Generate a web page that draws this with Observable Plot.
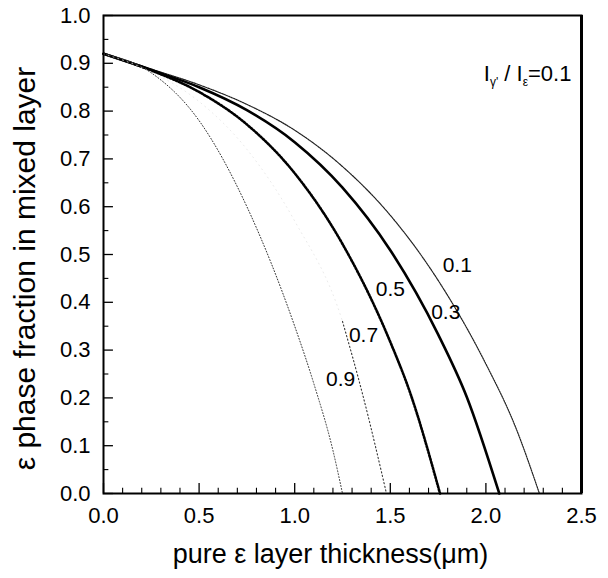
<!DOCTYPE html>
<html>
<head>
<meta charset="utf-8">
<script src="https://cdn.jsdelivr.net/npm/d3@7"></script>
<script src="https://cdn.jsdelivr.net/npm/@observablehq/plot@0.6"></script>
<style>
  html, body { margin: 0; padding: 0; background: #fff; }
</style>
</head>
<body>
<div id="chart"></div>
<script>
// Tick values
const xMajor = [0, 0.5, 1.0, 1.5, 2.0, 2.5];
const xMinor = [0.1,0.2,0.3,0.4,0.6,0.7,0.8,0.9,1.1,1.2,1.3,1.4,1.6,1.7,1.8,1.9,2.1,2.2,2.3,2.4];
const yMajor = [0, 0.1, 0.2, 0.3, 0.4, 0.5, 0.6, 0.7, 0.8, 0.9, 1.0];
const yMinor = [0.05,0.15,0.25,0.35,0.45,0.55,0.65,0.75,0.85,0.95];

// Series (curves labelled by I_gamma'/I_eps ratio)
const x01 = [0, 0.25, 0.5, 0.75, 1.0, 1.25, 1.5, 1.75, 2.0, 2.15, 2.28];
const y01 = [0.92, 0.888, 0.855, 0.814, 0.760, 0.684, 0.582, 0.446, 0.271, 0.144, 0];
const x03 = [0, 0.25, 0.5, 0.75, 1.0, 1.25, 1.5, 1.75, 1.9, 2.07];
const y03 = [0.92, 0.886, 0.85, 0.802, 0.735, 0.640, 0.509, 0.333, 0.202, 0];
const x05 = [0, 0.25, 0.5, 0.75, 1.0, 1.25, 1.5, 1.6, 1.76];
const y05 = [0.92, 0.885, 0.84, 0.772, 0.670, 0.522, 0.317, 0.215, 0];
const x07 = [0, 0.25, 0.5, 0.75, 1.0, 1.25, 1.36, 1.48];
const y07 = [0.92, 0.882, 0.82, 0.72, 0.57, 0.36, 0.20, 0];
const x09 = [0, 0.25, 0.5, 0.75, 1.0, 1.1, 1.2, 1.25];
const y09 = [0.92, 0.880, 0.78, 0.60, 0.35, 0.23, 0.09, 0];

// Curve labels
const labelText = ["0.1", "0.3", "0.5", "0.7", "0.9"];
const labelX = [1.85, 1.79, 1.50, 1.36, 1.24];
const labelY = [0.477, 0.38, 0.427, 0.33, 0.238];

const toRows = (xs, ys) => xs.map((x, i) => ({x, y: ys[i]}));
const labels = labelText.map((t, i) => ({t, x: labelX[i], y: labelY[i]}));
const rows07 = toRows(x07, y07);

const font = "'Liberation Sans', Arial, Helvetica, sans-serif";

const chart = Plot.plot({
  width: 608,
  height: 578,
  marginLeft: 103,
  marginRight: 27,
  marginTop: 15,
  marginBottom: 85,
  style: {fontFamily: font, background: "#fff", color: "#000"},
  x: {domain: [0, 2.5]},
  y: {domain: [0, 1]},
  marks: [
    // inward ticks
    Plot.ruleX(xMajor, {x: d => d, y1: 0, y2: 0.021, stroke: "#000", strokeWidth: 1.3}),
    Plot.ruleX(xMinor, {x: d => d, y1: 0, y2: 0.011, stroke: "#000", strokeWidth: 1.1}),
    Plot.ruleY(yMajor, {y: d => d, x1: 0, x2: 0.052, stroke: "#000", strokeWidth: 1.3}),
    Plot.ruleY(yMinor, {y: d => d, x1: 0, x2: 0.028, stroke: "#000", strokeWidth: 1.1}),
    // curves
    Plot.line(toRows(x01, y01), {x: "x", y: "y", curve: "monotone-x", stroke: "#222", strokeWidth: 1.2, strokeDasharray: "1.5,1"}),
    Plot.line(toRows(x03, y03), {x: "x", y: "y", curve: "monotone-x", stroke: "#000", strokeWidth: 2.6}),
    Plot.line(toRows(x05, y05), {x: "x", y: "y", curve: "monotone-x", stroke: "#000", strokeWidth: 2.6, strokeDasharray: "1.6,1.6"}),
    Plot.line(rows07, {x: "x", y: "y", curve: "monotone-x", stroke: "#e4e4e4", strokeWidth: 0.8, strokeDasharray: "1,4"}),
    Plot.line(rows07.slice(5), {x: "x", y: "y", curve: "monotone-x", stroke: "#333", strokeWidth: 1.1, strokeDasharray: "1.2,2.5"}),
    Plot.line(toRows(x09, y09), {x: "x", y: "y", curve: "monotone-x", stroke: "#333", strokeWidth: 1.0, strokeDasharray: "1,2"}),
    // curve labels
    Plot.text(labels, {x: "x", y: "y", text: "t", fontSize: 21, fill: "#000"}),
    // axes
    Plot.axisX(xMajor, {tickSize: 0, tickPadding: 14, tickFormat: d3.format(".1f"), fontSize: 22, label: null}),
    Plot.axisY(yMajor, {tickSize: 0, tickPadding: 13, tickFormat: d3.format(".1f"), fontSize: 22, label: null}),
    Plot.text(["pure ε layer thickness(μm)"], {frameAnchor: "bottom", dx: -12, dy: 69, fontSize: 27, fill: "#000"}),
    Plot.text(["ε phase fraction in mixed layer"], {frameAnchor: "left", textAnchor: "middle", dx: -78, dy: 14, rotate: -90, fontSize: 30, fill: "#000"}),
    Plot.frame({stroke: "#000", strokeWidth: 2}),
    Plot.ruleX([2.5], {stroke: "#000", strokeWidth: 3})
  ]
});

document.getElementById("chart").appendChild(chart);

// annotation with subscripts, placed via the plot's scales
const sx = chart.scale("x"), sy = chart.scale("y");
const annX = 2.45, annY = 0.862;
const t = d3.select(chart).append("text")
  .attr("x", sx.apply(annX))
  .attr("y", sy.apply(annY))
  .attr("text-anchor", "end")
  .attr("font-family", font)
  .attr("font-size", 22)
  .attr("fill", "#000");
t.append("tspan").text("I");
t.append("tspan").attr("font-size", 12).attr("dy", 5).text("γ'");
t.append("tspan").attr("dy", -5).text(" / I");
t.append("tspan").attr("font-size", 12).attr("dy", 5).text("ε");
t.append("tspan").attr("dy", -5).text("=0.1");
</script>
</body>
</html>
